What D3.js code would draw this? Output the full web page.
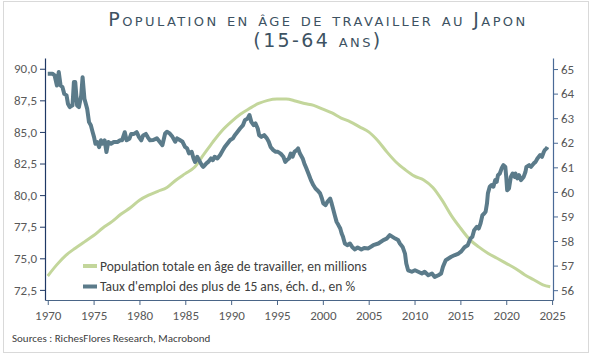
<!DOCTYPE html>
<html>
<head>
<meta charset="utf-8">
<script src="https://cdn.jsdelivr.net/npm/d3@7"></script>
<style>
  body { margin: 0; background: #fff; }
  svg { display: block; }
</style>
</head>
<body>
<svg id="chart" width="593" height="359"></svg>
<script>
// working-age population (15-64), millions, left axis
const popYears = [1970, 1971, 1972, 1973, 1974, 1975, 1976, 1977, 1978, 1979,
  1980, 1981, 1982, 1983, 1984, 1985, 1986, 1987, 1988, 1989,
  1990, 1991, 1992, 1993, 1994, 1995, 1996, 1997, 1998, 1999,
  2000, 2001, 2002, 2003, 2004, 2005, 2006, 2007, 2008, 2009,
  2010, 2011, 2012, 2013, 2014, 2015, 2016, 2017, 2018, 2019,
  2020, 2021, 2022, 2023, 2024, 2024.8]
const popValues = [73.6, 74.5, 75.25, 75.8, 76.3, 76.8, 77.4, 77.9, 78.5, 79.0,
  79.6, 80.0, 80.3, 80.6, 81.2, 81.7, 82.2, 83.2, 84.2, 85.1,
  85.8, 86.4, 86.85, 87.25, 87.5, 87.6, 87.6, 87.45, 87.25, 87.1,
  86.8, 86.5, 86.1, 85.8, 85.4, 85.0, 84.3, 83.4, 82.6, 82.0,
  81.5, 81.2, 80.6, 79.6, 78.4, 77.4, 76.5, 75.9, 75.4, 75.0,
  74.6, 74.2, 73.7, 73.3, 72.9, 72.75]

// employment rate of 15+, %, right axis
const empDates = [1970.00, 1970.50, 1970.75, 1971.00, 1971.20, 1971.40, 1971.60, 1971.80, 1972.05, 1972.20,
  1972.40, 1972.70, 1972.85, 1973.00, 1973.20, 1973.40, 1973.65, 1973.80, 1974.00, 1974.30,
  1974.50, 1974.70, 1974.90, 1975.05, 1975.20, 1975.40, 1975.60, 1975.80, 1975.95, 1976.20,
  1976.40, 1976.60, 1976.90, 1977.20, 1977.60, 1977.90, 1978.10, 1978.40, 1978.60, 1978.90,
  1979.10, 1979.40, 1979.70, 1979.95, 1980.20, 1980.40, 1980.70, 1980.90, 1981.15, 1981.50,
  1981.90, 1982.20, 1982.50, 1982.80, 1983.00, 1983.30, 1983.60, 1983.90, 1984.10, 1984.40,
  1984.70, 1984.97, 1985.20, 1985.40, 1985.70, 1985.90, 1986.06, 1986.30, 1986.50, 1986.80,
  1986.96, 1987.30, 1987.50, 1987.80, 1988.00, 1988.20, 1988.50, 1988.80, 1989.10, 1989.30,
  1989.60, 1989.90, 1990.20, 1990.40, 1990.70, 1990.97, 1991.30, 1991.50, 1991.80, 1992.00,
  1992.20, 1992.45, 1992.65, 1992.90, 1993.05, 1993.30, 1993.60, 1993.90, 1994.10, 1994.30,
  1994.60, 1994.86, 1995.10, 1995.40, 1995.70, 1995.90, 1996.06, 1996.30, 1996.50, 1996.70,
  1996.90, 1997.15, 1997.30, 1997.50, 1997.80, 1997.98, 1998.20, 1998.50, 1998.70, 1998.96,
  1999.20, 1999.40, 1999.70, 1999.90, 2000.05, 2000.30, 2000.50, 2000.80, 2000.96, 2001.10,
  2001.30, 2001.50, 2001.70, 2001.90, 2002.05, 2002.20, 2002.40, 2002.70, 2002.96, 2003.20,
  2003.50, 2003.80, 2004.20, 2004.50, 2004.96, 2005.50, 2006.05, 2006.60, 2006.96, 2007.30,
  2007.60, 2007.90, 2008.20, 2008.40, 2008.70, 2008.96, 2009.10, 2009.30, 2009.70, 2010.05,
  2010.40, 2010.80, 2011.10, 2011.50, 2011.90, 2012.20, 2012.60, 2012.90, 2013.10, 2013.40,
  2013.70, 2014.00, 2014.40, 2014.80, 2015.10, 2015.45, 2015.80, 2016.10, 2016.30, 2016.50,
  2016.80, 2017.00, 2017.20, 2017.40, 2017.60, 2017.75, 2017.90, 2018.00, 2018.20, 2018.40,
  2018.60, 2018.80, 2018.96, 2019.10, 2019.30, 2019.50, 2019.70, 2019.90, 2020.00, 2020.10,
  2020.30, 2020.50, 2020.70, 2020.90, 2021.00, 2021.20, 2021.40, 2021.60, 2021.90, 2022.10,
  2022.20, 2022.50, 2022.70, 2023.00, 2023.20, 2023.40, 2023.70, 2023.90, 2024.10, 2024.20,
  2024.40, 2024.50]
const empRate = [64.81, 64.81, 64.74, 64.33, 64.88, 64.33, 64.27, 63.99, 63.93, 63.59,
  63.45, 63.52, 64.47, 64.47, 63.52, 63.45, 63.93, 64.67, 63.79, 63.38,
  62.84, 62.71, 62.43, 62.23, 61.96, 62.03, 61.82, 62.10, 61.96, 62.10,
  61.62, 62.03, 61.96, 62.03, 62.03, 62.10, 62.10, 62.43, 62.10, 62.16,
  62.36, 62.36, 62.43, 62.23, 62.10, 62.30, 62.36, 62.23, 62.10, 62.11,
  62.18, 62.04, 61.90, 62.38, 62.45, 62.38, 62.24, 62.04, 62.18, 62.11,
  62.04, 61.83, 61.77, 61.57, 61.63, 61.36, 61.22, 61.43, 61.29, 61.09,
  61.02, 61.16, 61.22, 61.36, 61.29, 61.43, 61.36, 61.50, 61.70, 61.83,
  61.97, 62.11, 62.18, 62.31, 62.45, 62.58, 62.72, 62.92, 62.99, 63.13,
  62.85, 62.72, 62.79, 62.58, 62.31, 62.24, 62.31, 62.18, 62.04, 61.83,
  61.70, 61.63, 61.63, 61.56, 61.43, 61.22, 61.29, 61.36, 61.56, 61.43,
  61.63, 61.70, 61.77, 61.56, 61.36, 61.16, 60.96, 60.68, 60.48, 60.28,
  60.14, 60.07, 59.94, 59.73, 59.53, 59.46, 59.60, 59.73, 59.53, 59.33,
  59.05, 58.78, 58.65, 58.51, 58.31, 58.17, 57.90, 57.83, 57.90, 57.76,
  57.66, 57.74, 57.66, 57.72, 57.70, 57.83, 57.90, 58.04, 58.10, 58.24,
  58.17, 58.10, 58.04, 57.90, 57.76, 57.49, 57.09, 56.81, 56.75, 56.81,
  56.75, 56.68, 56.75, 56.61, 56.68, 56.54, 56.61, 56.68, 56.95, 57.22,
  57.29, 57.36, 57.43, 57.49, 57.58, 57.75, 57.83, 58.10, 58.17, 58.44,
  58.58, 58.51, 58.72, 59.05, 59.12, 59.19, 59.53, 59.94, 60.21, 60.28,
  60.21, 60.48, 60.41, 60.68, 60.75, 60.96, 61.09, 61.02, 60.61, 60.07,
  60.14, 60.61, 60.75, 60.61, 60.75, 60.55, 60.68, 60.48, 60.61, 60.82,
  61.02, 61.09, 61.02, 61.16, 61.22, 61.36, 61.50, 61.43, 61.63, 61.70,
  61.77, 61.83]

const xTicks = [1970, 1975, 1980, 1985, 1990, 1995, 2000, 2005, 2010, 2015, 2020, 2025]
const leftTicks = [72.5, 75, 77.5, 80, 82.5, 85, 87.5, 90]
const rightTicks = [56, 57, 58, 59, 60, 61, 62, 63, 64, 65]

const titleLines = ['Population en âge de travailler au Japon', '(15-64 ans)']
const legendLabels = ['Population totale en âge de travailler, en millions',
  "Taux d'emploi des plus de 15 ans, éch. d., en %"]
const sourceText = 'Sources : RichesFlores Research, Macrobond'

const popColor = '#c3d69b'
const empColor = '#5b7b8a'
const labelFont = "Carlito, Calibri, 'Liberation Sans Narrow', Lato, sans-serif"

const margin = { top: 58, right: 40, bottom: 59, left: 45 }
const W = 593, H = 359
const svg = d3.select('#chart')

// frame
svg.append('rect')
  .attr('x', 3.5).attr('y', 1.5)
  .attr('width', 585).attr('height', 351)
  .attr('fill', 'none').attr('stroke', '#d9d9d9')

const x = d3.scaleLinear().domain([1969.7, 2025.1]).range([margin.left, W - margin.right])
const yL = d3.scaleLinear().domain([71.7, 90.85]).range([H - margin.bottom, margin.top])
const yR = d3.scaleLinear().domain([55.6, 65.45]).range([H - margin.bottom, margin.top])

// title, small caps like the original, one text per line
svg.selectAll('text.title')
  .data(titleLines)
  .join('text')
  .attr('class', 'title')
  .attr('x', 318)
  .attr('y', (d, i) => 26 + i * 21)
  .attr('text-anchor', 'middle')
  .attr('fill', '#3d5262')
  .style('font-family', "'DejaVu Sans', sans-serif")
  .style('font-size', '19px')
  .style('letter-spacing', '2.4px')
  .style('font-variant', 'small-caps')
  .text(d => d)

const fmtL = v => d3.format('.1f')(v).replace('.', ',')

// left axis
const gL = svg.append('g')
  .attr('transform', `translate(${margin.left},0)`)
  .call(d3.axisLeft(yL).tickValues(leftTicks).tickFormat(fmtL).tickSize(5).tickSizeOuter(0))
gL.select('.domain').attr('stroke', '#1f3864').attr('stroke-width', 1.2)
gL.selectAll('.tick line').attr('stroke', '#1f3864')

// right axis
const gR = svg.append('g')
  .attr('transform', `translate(${W - margin.right},0)`)
  .call(d3.axisRight(yR).tickValues(rightTicks).tickSize(5).tickSizeOuter(0))
gR.select('.domain').attr('stroke', '#4a6a96').attr('stroke-width', 1.2)
gR.selectAll('.tick line').attr('stroke', '#4a6a96')

// bottom axis
const gX = svg.append('g')
  .attr('transform', `translate(0,${H - margin.bottom})`)
  .call(d3.axisBottom(x).tickValues(xTicks).tickFormat(d3.format('d')).tickSize(5).tickSizeOuter(0))
gX.select('.domain').attr('stroke', '#4a6587').attr('stroke-width', 1.2)
gX.selectAll('.tick line').attr('stroke', '#4a6587')
gX.selectAll('.tick text').attr('dy', '0.95em')

svg.selectAll('.tick text')
  .attr('fill', '#595959')
  .style('font-family', labelFont)
  .style('font-size', '13px')

// series
const popData = popYears.map((yr, i) => ({ t: yr, v: popValues[i] }))
const empData = empDates.map((t, i) => ({ t, v: empRate[i] }))

svg.append('path')
  .datum(popData)
  .attr('fill', 'none')
  .attr('stroke', popColor)
  .attr('stroke-width', 3)
  .attr('stroke-linejoin', 'round')
  .attr('d', d3.line().x(d => x(d.t)).y(d => yL(d.v)).curve(d3.curveMonotoneX))

svg.append('path')
  .datum(empData)
  .attr('fill', 'none')
  .attr('stroke', empColor)
  .attr('stroke-width', 4)
  .attr('stroke-linejoin', 'round')
  .attr('d', d3.line().x(d => x(d.t)).y(d => yR(d.v)))

// legend
const legend = svg.append('g').attr('transform', 'translate(83,266)')
const items = legend.selectAll('g')
  .data(legendLabels)
  .join('g')
  .attr('transform', (d, i) => `translate(0,${i * 20.5})`)
items.append('line')
  .attr('x1', 0).attr('x2', 14)
  .attr('stroke', (d, i) => i === 0 ? popColor : empColor)
  .attr('stroke-width', 4)
items.append('text')
  .attr('x', 17).attr('dy', '0.35em')
  .attr('fill', '#404040')
  .style('font-family', labelFont)
  .style('font-size', '13.5px')
  .text(d => d)

// source
svg.append('text')
  .attr('x', 12).attr('y', 342)
  .attr('fill', '#404040')
  .style('font-family', labelFont)
  .style('font-size', '11px')
  .text(sourceText)
</script>
</body>
</html>
